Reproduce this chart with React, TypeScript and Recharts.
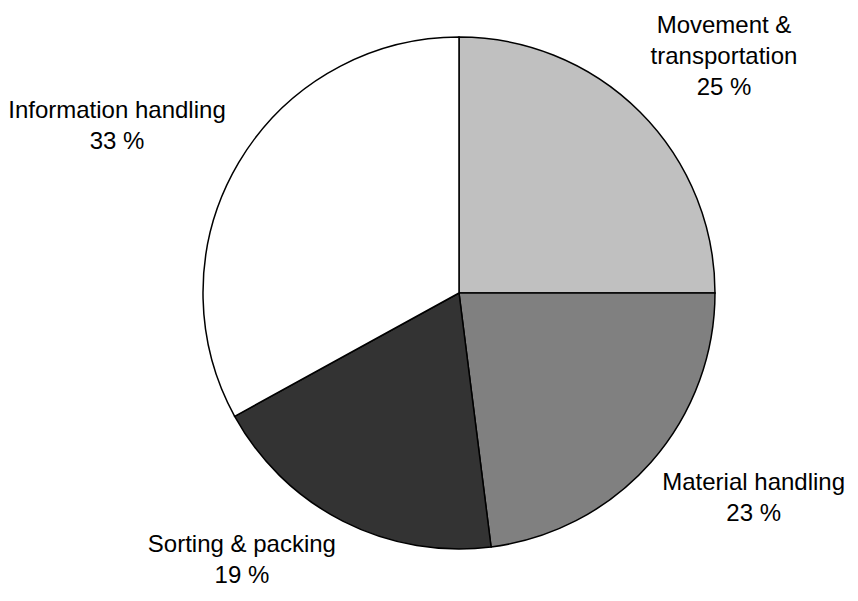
import React from "react";
import { PieChart, Pie, Cell } from "recharts";

// Share of working time by activity (percent)
const activities = [
  "Movement &\ntransportation",
  "Material handling",
  "Sorting & packing",
  "Information handling",
];
const shares = [25, 23, 19, 33];
const fills = ["#c0c0c0", "#808080", "#333333", "#ffffff"];

const data = activities.map((name, i) => ({ name, value: shares[i] }));

const FONT_SIZE = 24;
const LINE_HEIGHT = 31;
const FONT_FAMILY = '"Liberation Sans", Arial, Helvetica, sans-serif';
const RADIAN = Math.PI / 180;

let measureCtx: CanvasRenderingContext2D | null = null;
function textWidth(s: string): number {
  if (!measureCtx) {
    const c = document.createElement("canvas");
    measureCtx = c.getContext("2d");
  }
  if (measureCtx) {
    measureCtx.font = `${FONT_SIZE}px ${FONT_FAMILY}`;
    return measureCtx.measureText(s).width;
  }
  return s.length * FONT_SIZE * 0.5;
}

// Outside label: the text block's nearest corner sits just past the rim on the slice's mid-angle.
function renderLabel(props: any) {
  const { cx, cy, midAngle, outerRadius, name, value } = props;
  const cos = Math.cos(-midAngle * RADIAN);
  const sin = Math.sin(-midAngle * RADIAN);
  const r = outerRadius + 15;
  const ax = cx + r * cos;
  const ay = cy + r * sin;
  const lines: string[] = [...String(name).split("\n"), `${value} %`];
  const w = Math.max(...lines.map(textWidth));
  const centerX = cos >= 0 ? ax + w / 2 : ax - w / 2;
  // upper half: block sits above the anchor; lower half: block hangs below it
  const firstBaseline =
    sin < 0
      ? ay - 6 - (lines.length - 1) * LINE_HEIGHT
      : ay + 18;
  return (
    <text
      x={centerX}
      y={firstBaseline}
      textAnchor="middle"
      fill="#000"
      fontSize={FONT_SIZE}
      fontFamily={FONT_FAMILY}
    >
      {lines.map((ln, i) => (
        <tspan key={i} x={centerX} y={firstBaseline + i * LINE_HEIGHT}>
          {ln}
        </tspan>
      ))}
    </text>
  );
}

export default function App() {
  return (
    <div style={{ position: "absolute", left: 0, top: 0, background: "#fff" }}>
      <PieChart
        width={858}
        height={601}
        margin={{ top: 0, right: 0, bottom: 0, left: 0 }}
      >
        <Pie
          data={data}
          dataKey="value"
          nameKey="name"
          cx={459}
          cy={293}
          outerRadius={256}
          startAngle={90}
          endAngle={-270}
          stroke="#000"
          strokeWidth={1.5}
          label={renderLabel}
          labelLine={false}
          isAnimationActive={false}
        >
          {data.map((d, i) => (
            <Cell key={d.name} fill={fills[i]} />
          ))}
        </Pie>
      </PieChart>
    </div>
  );
}
